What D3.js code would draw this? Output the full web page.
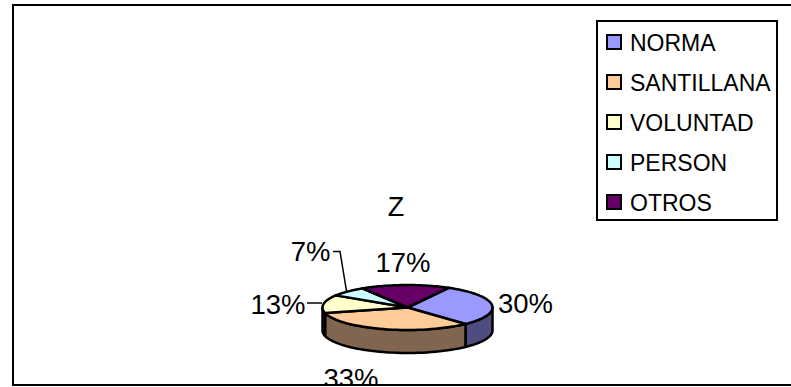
<!DOCTYPE html>
<html>
<head>
<meta charset="utf-8">
<script src="https://cdn.jsdelivr.net/npm/d3@7"></script>
<style>
html,body{margin:0;padding:0;background:#fff}
svg{display:block}
text{font-family:"Liberation Sans",Arial,sans-serif;fill:#000}
</style>
</head>
<body>
<svg id="chart" width="791" height="387"></svg>
<script>
// Publisher shares
const categories = ["NORMA", "SANTILLANA", "VOLUNTAD", "PERSON", "OTROS"];
const shares = [30, 33, 13, 7, 17];
const topColors = ["#9999ff", "#ffcc99", "#ffffcc", "#ccffff", "#660066"];
const sideColors = ["#4d4d80", "#806650", "#808066", "#668080", "#330033"];
const title = "Z";

const svg = d3.select("#chart");
const frame = {x: 13, y: 5, right: 800, bottom: 385};

// Pie geometry: a tilted disc with a visible rim
const cx = 407.5, cy = 307.5, rx = 85, ry = 22.5, depth = 23;
const startAngle = 29 * Math.PI / 180;

const pie = d3.pie().value(d => d).sort(null)
  .startAngle(startAngle).endAngle(startAngle + 2 * Math.PI);
const arcs = pie(shares);

const px = a => cx + rx * Math.sin(a);
const py = a => cy - ry * Math.cos(a);
const line = d3.line();

svg.append("defs").append("clipPath").attr("id", "plot-clip")
  .append("rect").attr("x", frame.x).attr("y", frame.y)
  .attr("width", frame.right - frame.x).attr("height", frame.bottom - frame.y);

svg.append("rect")
  .attr("x", frame.x).attr("y", frame.y)
  .attr("width", frame.right - frame.x).attr("height", frame.bottom - frame.y)
  .attr("fill", "#fff").attr("stroke", "#000").attr("stroke-width", 2);

const plot = svg.append("g").attr("clip-path", "url(#plot-clip)");

// Rim: only the front half of the disc shows a wall
const front = arcs.map((d, i) => ({
  a0: Math.max(d.startAngle, Math.PI / 2),
  a1: Math.min(d.endAngle, 3 * Math.PI / 2),
  i
})).filter(d => d.a1 > d.a0);

plot.selectAll("path.side").data(front).join("path")
  .attr("class", "side")
  .attr("fill", d => sideColors[d.i])
  .attr("stroke", "#000").attr("stroke-width", 2.5).attr("stroke-linejoin", "round")
  .attr("d", d => {
    const steps = d3.range(0, 41).map(k => d.a0 + (d.a1 - d.a0) * k / 40);
    const upper = steps.map(a => [px(a), py(a)]);
    const lower = steps.slice().reverse().map(a => [px(a), py(a) + depth]);
    return line(upper.concat(lower)) + "Z";
  });

// Top face slices
plot.selectAll("path.top").data(arcs).join("path")
  .attr("class", "top")
  .attr("fill", (d, i) => topColors[i])
  .attr("stroke", "#000").attr("stroke-width", 2.5).attr("stroke-linejoin", "round")
  .attr("d", d => {
    const steps = d3.range(0, 41).map(k => d.startAngle + (d.endAngle - d.startAngle) * k / 40);
    return line([[cx, cy]].concat(steps.map(a => [px(a), py(a)]))) + "Z";
  });

// Leader lines for the two narrow slices
const leaderPerson = [[346.5, 291], [340, 251.5], [333, 251.5]];
const leaderVoluntad = [[322, 303], [307, 303]];
plot.selectAll("path.leader").data([leaderPerson, leaderVoluntad]).join("path")
  .attr("class", "leader").attr("fill", "none")
  .attr("stroke", "#000").attr("stroke-width", 1.5)
  .attr("d", line);

// Percentage labels
const labelPos = [[525.5, 313], [351, 388], [278, 314], [310.5, 261], [403, 272]];
plot.selectAll("text.pct").data(shares).join("text")
  .attr("class", "pct")
  .attr("x", (d, i) => labelPos[i][0]).attr("y", (d, i) => labelPos[i][1])
  .attr("text-anchor", "middle").attr("font-size", 27.5)
  .text(d => d + "%");

svg.append("text").attr("x", 396).attr("y", 216)
  .attr("text-anchor", "middle").attr("font-size", 27).text(title);

// Legend
const legend = svg.append("g");
legend.append("rect").attr("x", 597).attr("y", 21).attr("width", 180).attr("height", 199)
  .attr("fill", "#fff").attr("stroke", "#000").attr("stroke-width", 2);

const rowY = d3.scalePoint().domain(categories).range([42, 202]);
const row = legend.selectAll("g.row").data(categories).join("g")
  .attr("class", "row")
  .attr("transform", d => `translate(0,${rowY(d)})`);
row.append("rect").attr("x", 607).attr("y", -7).attr("width", 14).attr("height", 14)
  .attr("fill", (d, i) => topColors[i]).attr("stroke", "#000").attr("stroke-width", 2);
row.append("text").attr("x", 630).attr("y", 8.5).attr("font-size", 23).text(d => d);
</script>
</body>
</html>
